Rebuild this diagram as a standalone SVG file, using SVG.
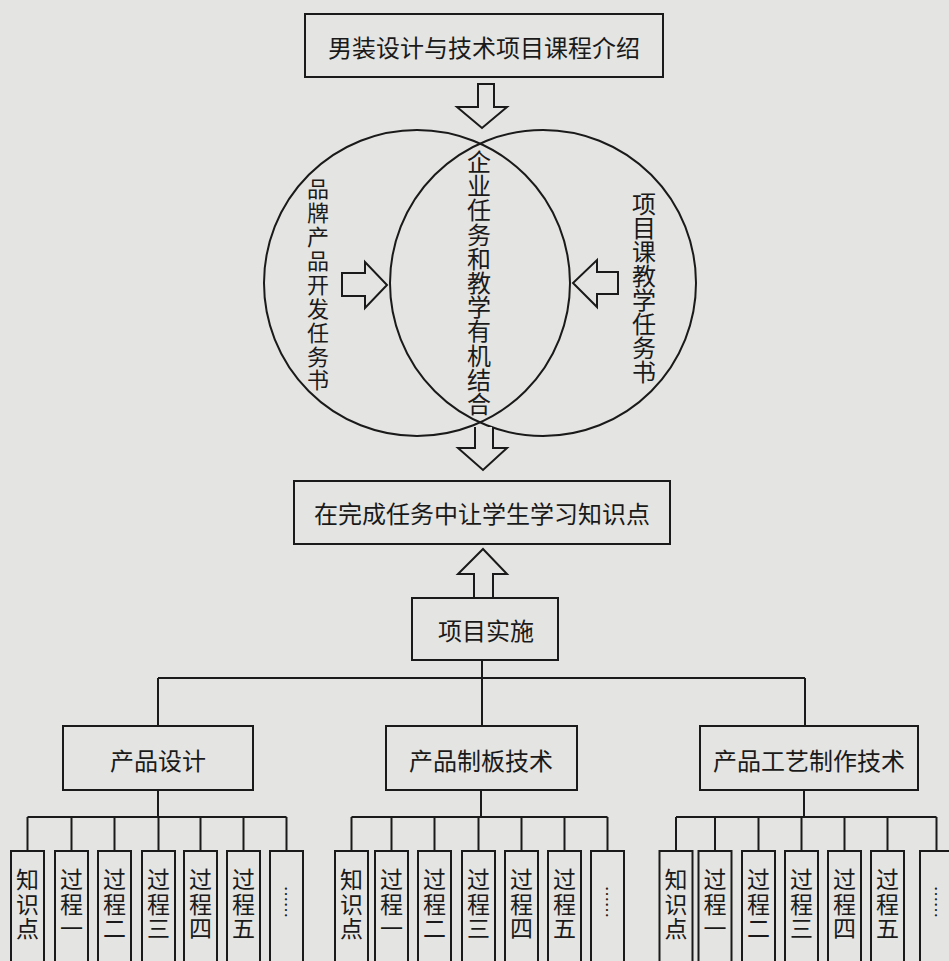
<svg xmlns="http://www.w3.org/2000/svg" width="949" height="961" viewBox="0 0 949 961">
<style>
.bg{fill:#e4e4e2}
.box{fill:#e4e4e2;stroke:#1a1a1a;stroke-width:2}
.ln{fill:none;stroke:#1a1a1a;stroke-width:2}
.arr{fill:#e4e4e2;stroke:#1a1a1a;stroke-width:2;stroke-linejoin:miter}
.t{font-family:"Noto Sans CJK SC","Noto Sans",sans-serif;fill:#1a1a1a;text-anchor:middle;dominant-baseline:central;font-size:24px}
.t22{font-size:22px}
.tk{font-size:23px}
</style>
<rect class="bg" x="0" y="0" width="949" height="961"/>

<g id="connectors">
  <polygon class="arr" points="478,84 494,84 494,107 507,107 482,128 457,107 478,107"/>
  <circle class="ln" cx="417" cy="283" r="153"/>
  <circle class="ln" cx="543" cy="283" r="153"/>
  <polygon class="arr" points="342,273 365,273 365,262 387,285 365,308 365,296 342,296"/>
  <polygon class="arr" points="618,272 597,272 597,260 573,283 597,307 597,294 618,294"/>
  <path class="arr" d="M475,427 L475,448 L458,448 L483,470 L507,448 L493,448 L493,427"/>
  <path class="arr" d="M474,598 L474,574 L458,574 L483,549 L507,574 L493,574 L493,598"/>
  <path class="ln" d="M482,660 V678 M158,678 H805 M158,678 V726 M482,678 V726 M805,678 V726"/>
  <path class="ln" d="M158,790 V817 M27.5,817 H286.5 M27.5,817 V851 M71.5,817 V851 M114.5,817 V851 M158.5,817 V851 M200.5,817 V851 M243.5,817 V851 M286.5,817 V851"/>
  <path class="ln" d="M481,790 V817 M351.5,817 H607.5 M351.5,817 V851 M391.5,817 V851 M434.5,817 V851 M478.5,817 V851 M521.5,817 V851 M564.5,817 V851 M607.5,817 V851"/>
  <path class="ln" d="M804,790 V817 M676,817 H936.5 M676,817 V851 M715,817 V851 M758.5,817 V851 M801.5,817 V851 M844.5,817 V851 M887.5,817 V851 M936.5,817 V851"/>
</g>

<g id="n-top">
  <rect class="box" x="305" y="14" width="358" height="63"/>
  <text class="t" x="484" y="46">男装设计与技术项目课程介绍</text>
</g>

<g id="n-left-circle">
  <text class="t t22"><tspan x="318" y="187">品</tspan><tspan x="318" y="211">牌</tspan><tspan x="318" y="235">产</tspan><tspan x="318" y="259">品</tspan><tspan x="318" y="283">开</tspan><tspan x="318" y="307">发</tspan><tspan x="318" y="331">任</tspan><tspan x="318" y="355">务</tspan><tspan x="318" y="378">书</tspan></text>
</g>

<g id="n-center">
  <text class="t"><tspan x="479" y="160">企</tspan><tspan x="479" y="184">业</tspan><tspan x="479" y="208">任</tspan><tspan x="479" y="233">务</tspan><tspan x="479" y="257">和</tspan><tspan x="479" y="281">教</tspan><tspan x="479" y="305">学</tspan><tspan x="479" y="329">有</tspan><tspan x="479" y="354">机</tspan><tspan x="479" y="378">结</tspan><tspan x="479" y="402">合</tspan></text>
</g>

<g id="n-right-circle">
  <text class="t"><tspan x="644" y="202">项</tspan><tspan x="644" y="226">目</tspan><tspan x="644" y="250">课</tspan><tspan x="644" y="274">教</tspan><tspan x="644" y="298">学</tspan><tspan x="644" y="322">任</tspan><tspan x="644" y="346">务</tspan><tspan x="644" y="370">书</tspan></text>
</g>

<g id="n-learn">
  <rect class="box" x="294" y="481" width="376" height="63"/>
  <text class="t" x="482" y="512">在完成任务中让学生学习知识点</text>
</g>

<g id="n-impl">
  <rect class="box" x="412" y="598" width="146" height="62"/>
  <text class="t" x="486" y="629">项目实施</text>
</g>

<g id="n-design">
  <rect class="box" x="63" y="726" width="190" height="64"/>
  <text class="t" x="158" y="759">产品设计</text>
</g>
<g id="n-pattern">
  <rect class="box" x="386" y="726" width="191" height="64"/>
  <text class="t" x="481" y="759">产品制板技术</text>
</g>
<g id="n-craft">
  <rect class="box" x="700" y="726" width="218" height="64"/>
  <text class="t" x="809" y="759">产品工艺制作技术</text>
</g>

<defs>
  <g id="k0"><rect class="box" x="-16.5" y="851" width="33" height="120"/><text class="t tk"><tspan x="0" y="878">知</tspan><tspan x="0" y="903">识</tspan><tspan x="0" y="927">点</tspan></text></g>
  <g id="k1"><rect class="box" x="-16.5" y="851" width="33" height="120"/><text class="t tk"><tspan x="0" y="878">过</tspan><tspan x="0" y="903">程</tspan><tspan x="0" y="927">一</tspan></text></g>
  <g id="k2"><rect class="box" x="-16.5" y="851" width="33" height="120"/><text class="t tk"><tspan x="0" y="878">过</tspan><tspan x="0" y="903">程</tspan><tspan x="0" y="927">二</tspan></text></g>
  <g id="k3"><rect class="box" x="-16.5" y="851" width="33" height="120"/><text class="t tk"><tspan x="0" y="878">过</tspan><tspan x="0" y="903">程</tspan><tspan x="0" y="927">三</tspan></text></g>
  <g id="k4"><rect class="box" x="-16.5" y="851" width="33" height="120"/><text class="t tk"><tspan x="0" y="878">过</tspan><tspan x="0" y="903">程</tspan><tspan x="0" y="927">四</tspan></text></g>
  <g id="k5"><rect class="box" x="-16.5" y="851" width="33" height="120"/><text class="t tk"><tspan x="0" y="878">过</tspan><tspan x="0" y="903">程</tspan><tspan x="0" y="927">五</tspan></text></g>
  <g id="k6"><rect class="box" x="-16.5" y="851" width="33" height="120"/><text class="t" style="font-size:16px" transform="translate(0,902) rotate(90)" x="0" y="0">……</text></g>
</defs>

<g id="n-design-children">
  <use href="#k0" x="27.5"/><use href="#k1" x="71.5"/><use href="#k2" x="114.5"/><use href="#k3" x="158.5"/><use href="#k4" x="200.5"/><use href="#k5" x="243.5"/><use href="#k6" x="286.5"/>
</g>
<g id="n-pattern-children">
  <use href="#k0" x="351.5"/><use href="#k1" x="391.5"/><use href="#k2" x="434.5"/><use href="#k3" x="478.5"/><use href="#k4" x="521.5"/><use href="#k5" x="564.5"/><use href="#k6" x="607.5"/>
</g>
<g id="n-craft-children">
  <use href="#k0" x="676"/><use href="#k1" x="715"/><use href="#k2" x="758.5"/><use href="#k3" x="801.5"/><use href="#k4" x="844.5"/><use href="#k5" x="887.5"/><use href="#k6" x="936.5"/>
</g>
</svg>
